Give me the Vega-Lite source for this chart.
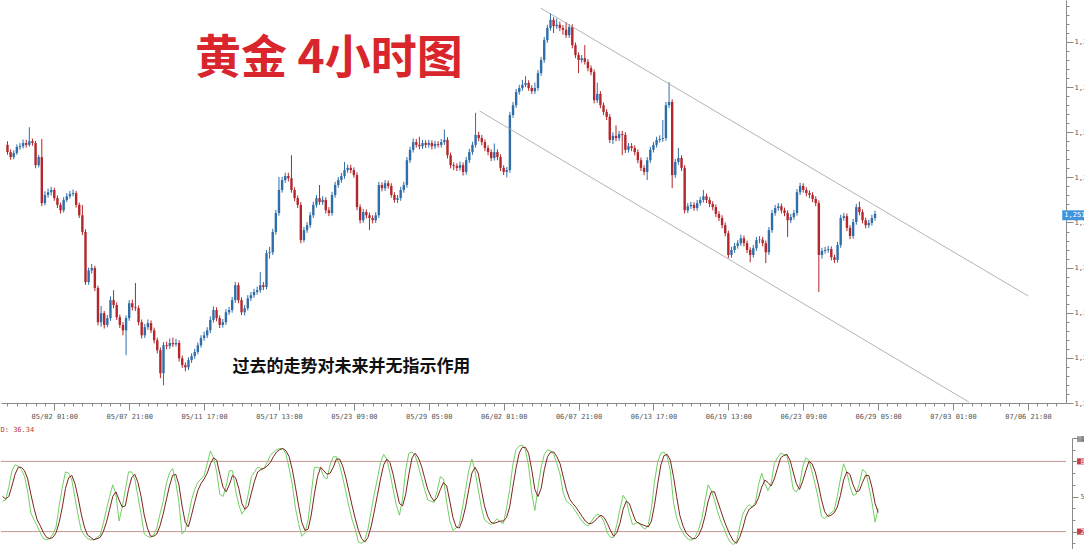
{
"$schema": "https://vega.github.io/schema/vega-lite/v6.json",
"padding": 0,
"background": "white",
"spacing": 7,
"config": {"view": {"stroke": null}, "axis": {"labelFont": "DejaVu Sans Mono", "labelFontSize": 7, "labelColor": "#555555", "domainColor": "#8a8a8a", "tickColor": "#8a8a8a", "grid": false, "title": null, "labelOverlap": false, "labelBound": false, "labelFlush": false}},
"resolve": {"scale": {"x": "independent", "y": "independent"}},
"datasets": {
"bars": [
{"i":0,"o":1267.2,"h":1268.0,"l":1265.0,"c":1265.6,"k":46,"d":50},
{"i":1,"o":1265.6,"h":1266.2,"l":1263.9,"c":1264.5,"k":47,"d":48},
{"i":2,"o":1264.5,"h":1266.0,"l":1264.0,"c":1265.4,"k":58,"d":50},
{"i":3,"o":1265.4,"h":1267.3,"l":1265.0,"c":1266.7,"k":72,"d":59},
{"i":4,"o":1266.7,"h":1267.6,"l":1266.1,"c":1266.9,"k":77,"d":69},
{"i":5,"o":1266.9,"h":1268.4,"l":1266.4,"c":1267.6,"k":76,"d":75},
{"i":6,"o":1267.6,"h":1268.3,"l":1266.6,"c":1267.2,"k":73,"d":75},
{"i":7,"o":1267.2,"h":1271.1,"l":1266.8,"c":1268.0,"k":67,"d":72},
{"i":8,"o":1268.0,"h":1268.6,"l":1267.0,"c":1267.6,"k":54,"d":65},
{"i":9,"o":1267.6,"h":1268.1,"l":1262.0,"c":1262.7,"k":36,"d":52},
{"i":10,"o":1262.7,"h":1265.0,"l":1262.2,"c":1264.5,"k":30,"d":40},
{"i":11,"o":1264.5,"h":1268.5,"l":1253.6,"c":1254.3,"k":25,"d":30},
{"i":12,"o":1254.3,"h":1256.9,"l":1253.8,"c":1256.1,"k":19,"d":25},
{"i":13,"o":1256.1,"h":1257.5,"l":1255.5,"c":1256.7,"k":14,"d":19},
{"i":14,"o":1256.7,"h":1257.9,"l":1256.0,"c":1257.2,"k":13,"d":15},
{"i":15,"o":1257.2,"h":1257.7,"l":1254.8,"c":1255.4,"k":14,"d":14},
{"i":16,"o":1255.4,"h":1256.0,"l":1253.2,"c":1253.9,"k":18,"d":15},
{"i":17,"o":1253.9,"h":1254.4,"l":1252.0,"c":1252.7,"k":24,"d":19},
{"i":18,"o":1252.7,"h":1255.6,"l":1252.2,"c":1255.0,"k":42,"d":28},
{"i":19,"o":1255.0,"h":1256.5,"l":1254.5,"c":1255.8,"k":58,"d":41},
{"i":20,"o":1255.8,"h":1257.0,"l":1255.3,"c":1256.3,"k":71,"d":57},
{"i":21,"o":1256.3,"h":1257.3,"l":1255.8,"c":1256.5,"k":70,"d":66},
{"i":22,"o":1256.5,"h":1257.0,"l":1253.3,"c":1253.9,"k":64,"d":68},
{"i":23,"o":1253.9,"h":1254.4,"l":1251.0,"c":1251.6,"k":49,"d":61},
{"i":24,"o":1251.6,"h":1253.9,"l":1247.2,"c":1247.9,"k":34,"d":49},
{"i":25,"o":1247.9,"h":1248.5,"l":1236.2,"c":1236.8,"k":21,"d":35},
{"i":26,"o":1236.8,"h":1240.0,"l":1236.2,"c":1239.4,"k":17,"d":24},
{"i":27,"o":1239.4,"h":1240.8,"l":1238.7,"c":1239.9,"k":14,"d":17},
{"i":28,"o":1239.9,"h":1240.4,"l":1234.8,"c":1235.5,"k":13,"d":15},
{"i":29,"o":1235.5,"h":1236.0,"l":1227.2,"c":1227.9,"k":13,"d":13},
{"i":30,"o":1227.9,"h":1231.5,"l":1226.9,"c":1229.9,"k":15,"d":14},
{"i":31,"o":1229.9,"h":1230.4,"l":1226.5,"c":1227.3,"k":17,"d":15},
{"i":32,"o":1227.3,"h":1229.5,"l":1226.8,"c":1228.8,"k":27,"d":20},
{"i":33,"o":1228.8,"h":1233.6,"l":1228.2,"c":1232.8,"k":39,"d":28},
{"i":34,"o":1232.8,"h":1235.0,"l":1231.0,"c":1231.7,"k":50,"d":39},
{"i":35,"o":1231.7,"h":1232.3,"l":1228.4,"c":1229.0,"k":60,"d":50},
{"i":36,"o":1229.0,"h":1229.6,"l":1226.6,"c":1227.3,"k":52,"d":54},
{"i":37,"o":1227.3,"h":1227.9,"l":1225.0,"c":1226.1,"k":29,"d":47},
{"i":38,"o":1226.1,"h":1229.4,"l":1220.6,"c":1228.8,"k":41,"d":41},
{"i":39,"o":1228.8,"h":1232.8,"l":1228.2,"c":1232.1,"k":56,"d":42},
{"i":40,"o":1232.1,"h":1232.9,"l":1230.5,"c":1231.2,"k":71,"d":56},
{"i":41,"o":1231.2,"h":1236.6,"l":1230.4,"c":1231.0,"k":71,"d":66},
{"i":42,"o":1231.0,"h":1231.6,"l":1227.2,"c":1227.9,"k":65,"d":69},
{"i":43,"o":1227.9,"h":1228.5,"l":1224.3,"c":1225.0,"k":50,"d":62},
{"i":44,"o":1225.0,"h":1227.5,"l":1224.4,"c":1226.8,"k":35,"d":50},
{"i":45,"o":1226.8,"h":1228.5,"l":1226.2,"c":1227.7,"k":18,"d":34},
{"i":46,"o":1227.7,"h":1228.3,"l":1225.5,"c":1226.1,"k":16,"d":23},
{"i":47,"o":1226.1,"h":1226.7,"l":1223.2,"c":1223.9,"k":15,"d":16},
{"i":48,"o":1223.9,"h":1224.5,"l":1221.0,"c":1221.7,"k":17,"d":16},
{"i":49,"o":1221.7,"h":1222.3,"l":1215.5,"c":1216.6,"k":23,"d":18},
{"i":50,"o":1216.6,"h":1223.5,"l":1213.9,"c":1222.8,"k":35,"d":25},
{"i":51,"o":1222.8,"h":1223.6,"l":1221.9,"c":1222.6,"k":46,"d":35},
{"i":52,"o":1222.6,"h":1224.3,"l":1222.0,"c":1223.3,"k":61,"d":47},
{"i":53,"o":1223.3,"h":1224.5,"l":1222.4,"c":1223.0,"k":70,"d":59},
{"i":54,"o":1223.0,"h":1224.2,"l":1222.5,"c":1223.3,"k":74,"d":68},
{"i":55,"o":1223.3,"h":1223.9,"l":1219.2,"c":1219.9,"k":62,"d":69},
{"i":56,"o":1219.9,"h":1220.5,"l":1217.8,"c":1218.4,"k":45,"d":60},
{"i":57,"o":1218.4,"h":1219.0,"l":1217.0,"c":1217.9,"k":18,"d":42},
{"i":58,"o":1217.9,"h":1220.1,"l":1217.3,"c":1219.5,"k":21,"d":28},
{"i":59,"o":1219.5,"h":1221.0,"l":1218.9,"c":1220.4,"k":33,"d":24},
{"i":60,"o":1220.4,"h":1222.0,"l":1219.8,"c":1221.3,"k":47,"d":34},
{"i":61,"o":1221.3,"h":1223.4,"l":1220.8,"c":1222.8,"k":56,"d":45},
{"i":62,"o":1222.8,"h":1225.0,"l":1222.3,"c":1224.4,"k":62,"d":55},
{"i":63,"o":1224.4,"h":1225.8,"l":1223.8,"c":1225.0,"k":65,"d":61},
{"i":64,"o":1225.0,"h":1226.8,"l":1224.4,"c":1226.1,"k":68,"d":65},
{"i":65,"o":1226.1,"h":1229.2,"l":1225.5,"c":1228.4,"k":78,"d":70},
{"i":66,"o":1228.4,"h":1231.4,"l":1227.8,"c":1230.6,"k":89,"d":78},
{"i":67,"o":1230.6,"h":1231.2,"l":1228.1,"c":1228.8,"k":83,"d":83},
{"i":68,"o":1228.8,"h":1229.4,"l":1226.6,"c":1227.3,"k":71,"d":81},
{"i":69,"o":1227.3,"h":1228.6,"l":1226.7,"c":1227.9,"k":52,"d":69},
{"i":70,"o":1227.9,"h":1230.8,"l":1227.3,"c":1230.1,"k":50,"d":58},
{"i":71,"o":1230.1,"h":1231.3,"l":1229.5,"c":1230.6,"k":59,"d":54},
{"i":72,"o":1230.6,"h":1233.5,"l":1230.0,"c":1232.8,"k":72,"d":60},
{"i":73,"o":1232.8,"h":1236.8,"l":1232.2,"c":1236.1,"k":72,"d":68},
{"i":74,"o":1236.1,"h":1236.7,"l":1232.1,"c":1232.8,"k":55,"d":66},
{"i":75,"o":1232.8,"h":1233.4,"l":1229.5,"c":1230.1,"k":43,"d":57},
{"i":76,"o":1230.1,"h":1231.7,"l":1229.4,"c":1231.0,"k":35,"d":44},
{"i":77,"o":1231.0,"h":1233.9,"l":1230.5,"c":1233.2,"k":39,"d":39},
{"i":78,"o":1233.2,"h":1234.6,"l":1232.6,"c":1233.9,"k":52,"d":42},
{"i":79,"o":1233.9,"h":1235.3,"l":1233.3,"c":1234.6,"k":67,"d":53},
{"i":80,"o":1234.6,"h":1235.8,"l":1234.0,"c":1235.0,"k":71,"d":63},
{"i":81,"o":1235.0,"h":1239.0,"l":1234.4,"c":1236.1,"k":75,"d":71},
{"i":82,"o":1236.1,"h":1236.8,"l":1235.0,"c":1235.7,"k":74,"d":73},
{"i":83,"o":1235.7,"h":1243.9,"l":1235.2,"c":1243.2,"k":74,"d":74},
{"i":84,"o":1243.2,"h":1244.6,"l":1242.0,"c":1243.4,"k":79,"d":76},
{"i":85,"o":1243.4,"h":1248.6,"l":1242.8,"c":1247.9,"k":85,"d":79},
{"i":86,"o":1247.9,"h":1252.8,"l":1247.3,"c":1252.1,"k":88,"d":84},
{"i":87,"o":1252.1,"h":1260.1,"l":1251.5,"c":1257.2,"k":90,"d":88},
{"i":88,"o":1257.2,"h":1260.1,"l":1256.6,"c":1259.4,"k":91,"d":90},
{"i":89,"o":1259.4,"h":1261.0,"l":1258.8,"c":1260.3,"k":91,"d":91},
{"i":90,"o":1260.3,"h":1261.0,"l":1259.1,"c":1259.8,"k":86,"d":89},
{"i":91,"o":1259.8,"h":1264.9,"l":1256.6,"c":1257.2,"k":74,"d":84},
{"i":92,"o":1257.2,"h":1257.8,"l":1254.7,"c":1255.4,"k":60,"d":73},
{"i":93,"o":1255.4,"h":1256.0,"l":1253.2,"c":1253.9,"k":40,"d":58},
{"i":94,"o":1253.9,"h":1254.5,"l":1245.4,"c":1246.1,"k":27,"d":42},
{"i":95,"o":1246.1,"h":1249.0,"l":1245.6,"c":1248.3,"k":16,"d":28},
{"i":96,"o":1248.3,"h":1250.1,"l":1247.7,"c":1249.4,"k":19,"d":21},
{"i":97,"o":1249.4,"h":1252.3,"l":1248.8,"c":1251.6,"k":30,"d":22},
{"i":98,"o":1251.6,"h":1254.6,"l":1251.0,"c":1253.9,"k":52,"d":34},
{"i":99,"o":1253.9,"h":1256.1,"l":1253.3,"c":1255.4,"k":75,"d":52},
{"i":100,"o":1255.4,"h":1258.3,"l":1253.9,"c":1254.5,"k":75,"d":67},
{"i":101,"o":1254.5,"h":1255.8,"l":1253.9,"c":1255.0,"k":74,"d":75},
{"i":102,"o":1255.0,"h":1255.6,"l":1252.0,"c":1252.7,"k":67,"d":72},
{"i":103,"o":1252.7,"h":1253.4,"l":1251.4,"c":1252.1,"k":65,"d":69},
{"i":104,"o":1252.1,"h":1256.8,"l":1251.5,"c":1256.1,"k":77,"d":70},
{"i":105,"o":1256.1,"h":1259.0,"l":1255.5,"c":1258.3,"k":84,"d":75},
{"i":106,"o":1258.3,"h":1260.1,"l":1257.7,"c":1259.4,"k":84,"d":82},
{"i":107,"o":1259.4,"h":1261.0,"l":1258.8,"c":1260.3,"k":77,"d":82},
{"i":108,"o":1260.3,"h":1263.4,"l":1259.7,"c":1261.6,"k":66,"d":76},
{"i":109,"o":1261.6,"h":1262.8,"l":1261.0,"c":1262.1,"k":54,"d":66},
{"i":110,"o":1262.1,"h":1262.8,"l":1260.9,"c":1261.6,"k":41,"d":54},
{"i":111,"o":1261.6,"h":1262.2,"l":1259.9,"c":1260.5,"k":30,"d":42},
{"i":112,"o":1260.5,"h":1261.1,"l":1252.7,"c":1253.4,"k":22,"d":31},
{"i":113,"o":1253.4,"h":1254.0,"l":1249.8,"c":1250.5,"k":11,"d":21},
{"i":114,"o":1250.5,"h":1253.0,"l":1249.9,"c":1252.3,"k":10,"d":14},
{"i":115,"o":1252.3,"h":1252.9,"l":1250.9,"c":1251.6,"k":13,"d":11},
{"i":116,"o":1251.6,"h":1252.2,"l":1248.3,"c":1251.0,"k":22,"d":15},
{"i":117,"o":1251.0,"h":1251.6,"l":1249.8,"c":1250.5,"k":37,"d":24},
{"i":118,"o":1250.5,"h":1252.3,"l":1249.9,"c":1251.6,"k":52,"d":37},
{"i":119,"o":1251.6,"h":1259.0,"l":1251.0,"c":1258.3,"k":65,"d":51},
{"i":120,"o":1258.3,"h":1258.9,"l":1256.9,"c":1257.6,"k":79,"d":65},
{"i":121,"o":1257.6,"h":1259.4,"l":1257.0,"c":1258.7,"k":86,"d":77},
{"i":122,"o":1258.7,"h":1259.3,"l":1257.5,"c":1258.1,"k":82,"d":82},
{"i":123,"o":1258.1,"h":1258.7,"l":1255.5,"c":1256.1,"k":70,"d":79},
{"i":124,"o":1256.1,"h":1256.7,"l":1254.4,"c":1255.0,"k":56,"d":69},
{"i":125,"o":1255.0,"h":1256.1,"l":1254.3,"c":1255.4,"k":43,"d":56},
{"i":126,"o":1255.4,"h":1257.9,"l":1254.8,"c":1257.2,"k":34,"d":44},
{"i":127,"o":1257.2,"h":1259.0,"l":1256.6,"c":1258.3,"k":48,"d":42},
{"i":128,"o":1258.3,"h":1264.5,"l":1257.7,"c":1263.8,"k":73,"d":52},
{"i":129,"o":1263.8,"h":1266.8,"l":1263.2,"c":1266.1,"k":87,"d":69},
{"i":130,"o":1266.1,"h":1268.6,"l":1265.5,"c":1267.8,"k":88,"d":83},
{"i":131,"o":1267.8,"h":1268.5,"l":1266.6,"c":1267.2,"k":85,"d":87},
{"i":132,"o":1267.2,"h":1269.0,"l":1266.2,"c":1266.9,"k":76,"d":83},
{"i":133,"o":1266.9,"h":1268.3,"l":1266.3,"c":1267.6,"k":66,"d":76},
{"i":134,"o":1267.6,"h":1268.2,"l":1266.5,"c":1267.2,"k":56,"d":66},
{"i":135,"o":1267.2,"h":1268.3,"l":1266.6,"c":1267.6,"k":47,"d":56},
{"i":136,"o":1267.6,"h":1268.2,"l":1266.2,"c":1266.9,"k":46,"d":50},
{"i":137,"o":1266.9,"h":1268.1,"l":1266.3,"c":1267.4,"k":45,"d":46},
{"i":138,"o":1267.4,"h":1268.0,"l":1266.6,"c":1267.2,"k":55,"d":49},
{"i":139,"o":1267.2,"h":1268.5,"l":1266.6,"c":1267.8,"k":67,"d":56},
{"i":140,"o":1267.8,"h":1270.6,"l":1267.2,"c":1268.3,"k":65,"d":62},
{"i":141,"o":1268.3,"h":1268.9,"l":1264.2,"c":1264.9,"k":45,"d":59},
{"i":142,"o":1264.9,"h":1265.5,"l":1262.0,"c":1262.7,"k":29,"d":46},
{"i":143,"o":1262.7,"h":1263.3,"l":1261.6,"c":1262.5,"k":21,"d":32},
{"i":144,"o":1262.5,"h":1263.1,"l":1261.4,"c":1262.1,"k":23,"d":24},
{"i":145,"o":1262.1,"h":1263.5,"l":1261.5,"c":1262.7,"k":26,"d":23},
{"i":146,"o":1262.7,"h":1263.3,"l":1260.4,"c":1261.2,"k":40,"d":30},
{"i":147,"o":1261.2,"h":1264.5,"l":1260.6,"c":1263.8,"k":56,"d":41},
{"i":148,"o":1263.8,"h":1266.3,"l":1263.2,"c":1265.6,"k":72,"d":56},
{"i":149,"o":1265.6,"h":1267.9,"l":1265.0,"c":1267.2,"k":82,"d":70},
{"i":150,"o":1267.2,"h":1274.3,"l":1266.6,"c":1269.4,"k":72,"d":75},
{"i":151,"o":1269.4,"h":1270.1,"l":1268.0,"c":1268.7,"k":56,"d":70},
{"i":152,"o":1268.7,"h":1269.4,"l":1267.1,"c":1267.8,"k":41,"d":56},
{"i":153,"o":1267.8,"h":1268.4,"l":1265.8,"c":1266.5,"k":30,"d":42},
{"i":154,"o":1266.5,"h":1267.1,"l":1264.9,"c":1265.6,"k":28,"d":33},
{"i":155,"o":1265.6,"h":1266.2,"l":1263.6,"c":1264.3,"k":26,"d":28},
{"i":156,"o":1264.3,"h":1267.5,"l":1263.7,"c":1265.6,"k":28,"d":27},
{"i":157,"o":1265.6,"h":1266.2,"l":1263.8,"c":1264.5,"k":31,"d":28},
{"i":158,"o":1264.5,"h":1265.1,"l":1261.4,"c":1262.1,"k":28,"d":29},
{"i":159,"o":1262.1,"h":1262.7,"l":1260.5,"c":1261.2,"k":27,"d":29},
{"i":160,"o":1261.2,"h":1262.3,"l":1260.0,"c":1261.6,"k":40,"d":32},
{"i":161,"o":1261.6,"h":1274.5,"l":1261.0,"c":1273.8,"k":56,"d":41},
{"i":162,"o":1273.8,"h":1276.7,"l":1273.2,"c":1276.0,"k":77,"d":58},
{"i":163,"o":1276.0,"h":1279.6,"l":1275.4,"c":1278.9,"k":90,"d":74},
{"i":164,"o":1278.9,"h":1280.5,"l":1278.3,"c":1279.8,"k":93,"d":87},
{"i":165,"o":1279.8,"h":1281.6,"l":1279.2,"c":1280.5,"k":94,"d":92},
{"i":166,"o":1280.5,"h":1282.4,"l":1280.0,"c":1280.9,"k":90,"d":92},
{"i":167,"o":1280.9,"h":1281.5,"l":1279.2,"c":1279.8,"k":76,"d":87},
{"i":168,"o":1279.8,"h":1280.4,"l":1278.5,"c":1279.1,"k":53,"d":73},
{"i":169,"o":1279.1,"h":1281.0,"l":1278.5,"c":1279.8,"k":38,"d":56},
{"i":170,"o":1279.8,"h":1283.8,"l":1279.2,"c":1283.1,"k":58,"d":50},
{"i":171,"o":1283.1,"h":1286.7,"l":1282.5,"c":1286.0,"k":75,"d":57},
{"i":172,"o":1286.0,"h":1291.1,"l":1285.4,"c":1290.4,"k":86,"d":73},
{"i":173,"o":1290.4,"h":1293.8,"l":1289.8,"c":1293.1,"k":90,"d":84},
{"i":174,"o":1293.1,"h":1296.4,"l":1292.5,"c":1294.9,"k":89,"d":88},
{"i":175,"o":1294.9,"h":1295.5,"l":1292.0,"c":1293.5,"k":86,"d":88},
{"i":176,"o":1293.5,"h":1295.2,"l":1292.9,"c":1293.8,"k":78,"d":84},
{"i":177,"o":1293.8,"h":1294.5,"l":1292.4,"c":1293.1,"k":69,"d":78},
{"i":178,"o":1293.1,"h":1293.7,"l":1291.6,"c":1292.7,"k":53,"d":67},
{"i":179,"o":1292.7,"h":1294.4,"l":1290.9,"c":1291.5,"k":46,"d":56},
{"i":180,"o":1291.5,"h":1294.0,"l":1290.9,"c":1293.3,"k":44,"d":48},
{"i":181,"o":1293.3,"h":1293.9,"l":1288.6,"c":1289.3,"k":41,"d":44},
{"i":182,"o":1289.3,"h":1289.9,"l":1286.4,"c":1287.1,"k":37,"d":41},
{"i":183,"o":1287.1,"h":1287.7,"l":1283.1,"c":1286.0,"k":33,"d":37},
{"i":184,"o":1286.0,"h":1287.1,"l":1285.4,"c":1286.4,"k":29,"d":33},
{"i":185,"o":1286.4,"h":1289.3,"l":1285.0,"c":1285.6,"k":26,"d":29},
{"i":186,"o":1285.6,"h":1286.2,"l":1283.5,"c":1284.2,"k":25,"d":27},
{"i":187,"o":1284.2,"h":1284.8,"l":1282.6,"c":1283.3,"k":29,"d":27},
{"i":188,"o":1283.3,"h":1283.9,"l":1276.4,"c":1277.1,"k":33,"d":29},
{"i":189,"o":1277.1,"h":1281.0,"l":1276.5,"c":1278.5,"k":35,"d":32},
{"i":190,"o":1278.5,"h":1279.1,"l":1275.3,"c":1276.0,"k":33,"d":34},
{"i":191,"o":1276.0,"h":1276.6,"l":1273.8,"c":1274.5,"k":28,"d":32},
{"i":192,"o":1274.5,"h":1275.1,"l":1272.7,"c":1273.4,"k":19,"d":27},
{"i":193,"o":1273.4,"h":1274.0,"l":1267.6,"c":1268.3,"k":15,"d":21},
{"i":194,"o":1268.3,"h":1270.0,"l":1267.4,"c":1269.2,"k":15,"d":16},
{"i":195,"o":1269.2,"h":1271.5,"l":1268.0,"c":1268.7,"k":26,"d":19},
{"i":196,"o":1268.7,"h":1270.3,"l":1268.1,"c":1269.6,"k":39,"d":27},
{"i":197,"o":1269.6,"h":1270.3,"l":1264.9,"c":1269.4,"k":51,"d":39},
{"i":198,"o":1269.4,"h":1270.0,"l":1265.4,"c":1266.1,"k":47,"d":46},
{"i":199,"o":1266.1,"h":1267.6,"l":1265.5,"c":1266.9,"k":35,"d":44},
{"i":200,"o":1266.9,"h":1267.6,"l":1265.8,"c":1266.5,"k":26,"d":36},
{"i":201,"o":1266.5,"h":1267.1,"l":1264.9,"c":1265.6,"k":27,"d":29},
{"i":202,"o":1265.6,"h":1266.2,"l":1263.1,"c":1263.8,"k":28,"d":27},
{"i":203,"o":1263.8,"h":1264.4,"l":1261.4,"c":1262.1,"k":24,"d":26},
{"i":204,"o":1262.1,"h":1262.7,"l":1260.5,"c":1261.2,"k":22,"d":25},
{"i":205,"o":1261.2,"h":1264.5,"l":1259.4,"c":1263.8,"k":26,"d":24},
{"i":206,"o":1263.8,"h":1266.8,"l":1263.2,"c":1266.1,"k":40,"d":29},
{"i":207,"o":1266.1,"h":1267.9,"l":1265.5,"c":1267.2,"k":63,"d":43},
{"i":208,"o":1267.2,"h":1269.0,"l":1266.6,"c":1268.3,"k":80,"d":61},
{"i":209,"o":1268.3,"h":1269.3,"l":1267.7,"c":1268.5,"k":87,"d":77},
{"i":210,"o":1268.5,"h":1272.7,"l":1267.9,"c":1268.7,"k":88,"d":85},
{"i":211,"o":1268.7,"h":1276.7,"l":1268.1,"c":1276.0,"k":84,"d":86},
{"i":212,"o":1276.0,"h":1281.1,"l":1275.4,"c":1276.7,"k":72,"d":81},
{"i":213,"o":1276.7,"h":1277.3,"l":1257.6,"c":1260.5,"k":45,"d":67},
{"i":214,"o":1260.5,"h":1264.1,"l":1259.9,"c":1263.4,"k":32,"d":50},
{"i":215,"o":1263.4,"h":1266.5,"l":1262.8,"c":1264.3,"k":24,"d":34},
{"i":216,"o":1264.3,"h":1264.9,"l":1261.4,"c":1262.1,"k":19,"d":25},
{"i":217,"o":1262.1,"h":1262.7,"l":1252.0,"c":1252.7,"k":15,"d":19},
{"i":218,"o":1252.7,"h":1254.3,"l":1252.1,"c":1253.6,"k":13,"d":16},
{"i":219,"o":1253.6,"h":1254.6,"l":1253.0,"c":1253.9,"k":13,"d":14},
{"i":220,"o":1253.9,"h":1254.5,"l":1252.6,"c":1253.2,"k":16,"d":14},
{"i":221,"o":1253.2,"h":1255.0,"l":1252.6,"c":1254.3,"k":22,"d":17},
{"i":222,"o":1254.3,"h":1255.7,"l":1253.7,"c":1255.0,"k":31,"d":23},
{"i":223,"o":1255.0,"h":1257.2,"l":1254.4,"c":1255.8,"k":46,"d":33},
{"i":224,"o":1255.8,"h":1256.4,"l":1254.3,"c":1255.0,"k":60,"d":46},
{"i":225,"o":1255.0,"h":1255.6,"l":1253.4,"c":1254.1,"k":55,"d":54},
{"i":226,"o":1254.1,"h":1254.7,"l":1252.7,"c":1253.4,"k":47,"d":54},
{"i":227,"o":1253.4,"h":1254.0,"l":1251.2,"c":1251.9,"k":37,"d":46},
{"i":228,"o":1251.9,"h":1252.5,"l":1250.3,"c":1251.0,"k":29,"d":38},
{"i":229,"o":1251.0,"h":1251.6,"l":1248.7,"c":1249.4,"k":23,"d":30},
{"i":230,"o":1249.4,"h":1250.0,"l":1246.9,"c":1247.6,"k":16,"d":23},
{"i":231,"o":1247.6,"h":1248.2,"l":1242.1,"c":1242.8,"k":11,"d":17},
{"i":232,"o":1242.8,"h":1244.6,"l":1242.2,"c":1243.9,"k":9,"d":12},
{"i":233,"o":1243.9,"h":1245.5,"l":1243.3,"c":1244.8,"k":11,"d":10},
{"i":234,"o":1244.8,"h":1246.1,"l":1244.2,"c":1245.4,"k":24,"d":15},
{"i":235,"o":1245.4,"h":1247.3,"l":1244.8,"c":1246.5,"k":35,"d":23},
{"i":236,"o":1246.5,"h":1247.1,"l":1244.7,"c":1245.4,"k":40,"d":33},
{"i":237,"o":1245.4,"h":1246.0,"l":1243.2,"c":1243.9,"k":43,"d":39},
{"i":238,"o":1243.9,"h":1244.5,"l":1241.2,"c":1242.8,"k":41,"d":41},
{"i":239,"o":1242.8,"h":1245.0,"l":1242.2,"c":1244.3,"k":45,"d":43},
{"i":240,"o":1244.3,"h":1246.8,"l":1243.7,"c":1246.1,"k":60,"d":49},
{"i":241,"o":1246.1,"h":1247.0,"l":1245.4,"c":1246.2,"k":70,"d":58},
{"i":242,"o":1246.2,"h":1246.8,"l":1244.7,"c":1245.4,"k":61,"d":64},
{"i":243,"o":1245.4,"h":1246.0,"l":1241.0,"c":1243.4,"k":55,"d":62},
{"i":244,"o":1243.4,"h":1249.0,"l":1242.8,"c":1248.3,"k":61,"d":59},
{"i":245,"o":1248.3,"h":1252.8,"l":1247.7,"c":1252.1,"k":78,"d":65},
{"i":246,"o":1252.1,"h":1253.9,"l":1251.5,"c":1253.2,"k":83,"d":74},
{"i":247,"o":1253.2,"h":1254.3,"l":1252.6,"c":1253.6,"k":87,"d":83},
{"i":248,"o":1253.6,"h":1254.2,"l":1252.0,"c":1252.7,"k":86,"d":85},
{"i":249,"o":1252.7,"h":1253.3,"l":1251.4,"c":1252.1,"k":85,"d":86},
{"i":250,"o":1252.1,"h":1252.7,"l":1246.8,"c":1250.5,"k":73,"d":81},
{"i":251,"o":1250.5,"h":1251.9,"l":1249.9,"c":1251.2,"k":56,"d":71},
{"i":252,"o":1251.2,"h":1252.8,"l":1250.6,"c":1252.1,"k":54,"d":61},
{"i":253,"o":1252.1,"h":1257.4,"l":1251.5,"c":1256.7,"k":59,"d":56},
{"i":254,"o":1256.7,"h":1258.8,"l":1256.1,"c":1258.1,"k":75,"d":63},
{"i":255,"o":1258.1,"h":1258.7,"l":1256.6,"c":1257.2,"k":83,"d":72},
{"i":256,"o":1257.2,"h":1257.8,"l":1255.8,"c":1256.5,"k":81,"d":80},
{"i":257,"o":1256.5,"h":1257.1,"l":1255.4,"c":1256.1,"k":71,"d":78},
{"i":258,"o":1256.1,"h":1256.7,"l":1254.5,"c":1255.2,"k":60,"d":71},
{"i":259,"o":1255.2,"h":1255.8,"l":1253.6,"c":1254.3,"k":48,"d":60},
{"i":260,"o":1254.3,"h":1254.9,"l":1234.6,"c":1242.8,"k":33,"d":47},
{"i":261,"o":1242.8,"h":1244.4,"l":1242.0,"c":1243.7,"k":31,"d":37},
{"i":262,"o":1243.7,"h":1244.6,"l":1243.1,"c":1243.9,"k":34,"d":33},
{"i":263,"o":1243.9,"h":1244.8,"l":1243.3,"c":1244.1,"k":36,"d":34},
{"i":264,"o":1244.1,"h":1244.7,"l":1241.6,"c":1242.3,"k":38,"d":36},
{"i":265,"o":1242.3,"h":1242.9,"l":1241.0,"c":1241.7,"k":50,"d":41},
{"i":266,"o":1241.7,"h":1245.7,"l":1241.1,"c":1245.0,"k":65,"d":51},
{"i":267,"o":1245.0,"h":1251.7,"l":1244.4,"c":1251.0,"k":78,"d":64},
{"i":268,"o":1251.0,"h":1252.1,"l":1250.4,"c":1251.4,"k":71,"d":71},
{"i":269,"o":1251.4,"h":1252.0,"l":1248.1,"c":1248.8,"k":59,"d":69},
{"i":270,"o":1248.8,"h":1249.4,"l":1246.3,"c":1247.0,"k":51,"d":60},
{"i":271,"o":1247.0,"h":1250.8,"l":1246.4,"c":1250.1,"k":52,"d":54},
{"i":272,"o":1250.1,"h":1254.1,"l":1249.5,"c":1253.4,"k":61,"d":55},
{"i":273,"o":1253.4,"h":1254.6,"l":1251.6,"c":1252.3,"k":73,"d":62},
{"i":274,"o":1252.3,"h":1252.9,"l":1249.8,"c":1250.5,"k":71,"d":68},
{"i":275,"o":1250.5,"h":1251.1,"l":1248.7,"c":1249.4,"k":59,"d":68},
{"i":276,"o":1249.4,"h":1250.6,"l":1248.8,"c":1249.9,"k":45,"d":58},
{"i":277,"o":1249.9,"h":1251.7,"l":1249.3,"c":1251.0,"k":28,"d":44},
{"i":278,"o":1251.0,"h":1252.6,"l":1250.4,"c":1251.9,"k":40,"d":36.34}
],
"chan": [
{"i1":170.9,"p1":1297.5,"i2":327.1,"p2":1233.7},
{"i1":151.3,"p1":1274.7,"i2":308.1,"p2":1210.2}
],
"notes": [
{"t":"黄金 4小时图","i":103,"p":1286.2,"kind":"title"},
{"t":"过去的走势对未来并无指示作用","i":110.2,"p":1217.9,"kind":"note"}
],
"pricetag": [
{"i1":338,"i2":346,"p1":1250.5,"p2":1252.7,"t":"1,251.90"}
],
"levels": [{"v":20},{"v":80}],
"stochtags": [
{"i1":341.1,"i2":346,"v1":77.4,"v2":82.6,"kind":"lim","t":"80"},
{"i1":341.1,"i2":346,"v1":17.4,"v2":22.6,"kind":"lim","t":"20"},
{"i1":341.1,"i2":346,"v1":96.5,"v2":101.5,"kind":"top","t":"100"}
]
},
"vconcat": [
{
"width": 1065,
"height": 403,
"resolve": {"axis": {"x": "independent", "y": "independent"}},
"layer": [
{"data": {"name": "bars"}, "mark": {"type": "rule", "strokeWidth": 1},
 "encoding": {
  "x": {"field": "i", "type": "quantitative", "scale": {"domain": [-0.476, 337.6], "nice": false, "zero": false},
   "axis": {"orient": "bottom", "values": [15,39,63,87,111,135,159,183,207,231,255,279,303,327],
    "labelExpr": "datum.value == 15 ? '05/02 01:00' : datum.value == 39 ? '05/07 21:00' : datum.value == 63 ? '05/11 17:00' : datum.value == 87 ? '05/17 13:00' : datum.value == 111 ? '05/23 09:00' : datum.value == 135 ? '05/29 05:00' : datum.value == 159 ? '06/02 01:00' : datum.value == 183 ? '06/07 21:00' : datum.value == 207 ? '06/13 17:00' : datum.value == 231 ? '06/19 13:00' : datum.value == 255 ? '06/23 09:00' : datum.value == 279 ? '06/29 05:00' : datum.value == 303 ? '07/03 01:00' : '07/06 21:00'",
    "tickSize": 7, "labelPadding": 2}},
  "y": {"field": "l", "type": "quantitative", "scale": {"domain": [1210, 1299.3], "nice": false, "zero": false},
   "axis": {"orient": "right", "values": [1210,1220,1230,1240,1250,1260,1270,1280,1290],
    "format": ",.2f", "tickSize": 7, "labelPadding": 1}},
  "y2": {"field": "h"},
  "color": {"condition": {"test": "datum.c >= datum.o", "value": "#2f6ea9"}, "value": "#b3262b"}
 }},
{"data": {"name": "bars"}, "mark": {"type": "bar", "size": 2.4},
 "encoding": {
  "x": {"field": "i", "type": "quantitative",
   "axis": {"orient": "bottom", "values": [0,3,6,9,12,18,21,24,27,30,33,36,42,45,48,51,54,57,60,66,69,72,75,78,81,84,90,93,96,99,102,105,108,114,117,120,123,126,129,132,138,141,144,147,150,153,156,162,165,168,171,174,177,180,186,189,192,195,198,201,204,210,213,216,219,222,225,228,234,237,240,243,246,249,252,258,261,264,267,270,273,276,282,285,288,291,294,297,300,306,309,312,315,318,321,324,330,333,336],
    "labels": false, "domain": false, "tickSize": 3}},
  "y": {"field": "o", "type": "quantitative",
   "axis": {"orient": "right", "values": [1212,1214,1216,1218,1222,1224,1226,1228,1232,1234,1236,1238,1242,1244,1246,1248,1252,1254,1256,1258,1262,1264,1266,1268,1272,1274,1276,1278,1282,1284,1286,1288,1292,1294,1296,1298],
    "labels": false, "domain": false, "tickSize": 3}},
  "y2": {"field": "c"},
  "color": {"condition": {"test": "datum.c >= datum.o", "value": "#2f6ea9"}, "value": "#b3262b"}
 }},
{"data": {"name": "chan"}, "mark": {"type": "rule", "color": "#ababab", "strokeWidth": 0.9},
 "encoding": {
  "x": {"field": "i1", "type": "quantitative", "axis": null}, "x2": {"field": "i2"},
  "y": {"field": "p1", "type": "quantitative", "axis": null}, "y2": {"field": "p2"}
 }},
{"data": {"name": "notes"}, "transform": [{"filter": "datum.kind == 'title'"}],
 "mark": {"type": "text", "font": "Noto Sans CJK SC", "fontSize": 46, "fontWeight": "bold", "color": "#d8262c", "align": "center", "baseline": "middle"},
 "encoding": {"x": {"field": "i", "type": "quantitative", "axis": null}, "y": {"field": "p", "type": "quantitative", "axis": null}, "text": {"field": "t"}}},
{"data": {"name": "notes"}, "transform": [{"filter": "datum.kind == 'note'"}],
 "mark": {"type": "text", "font": "Noto Sans CJK SC", "fontSize": 17, "fontWeight": "bold", "color": "#111111", "align": "center", "baseline": "middle"},
 "encoding": {"x": {"field": "i", "type": "quantitative", "axis": null}, "y": {"field": "p", "type": "quantitative", "axis": null}, "text": {"field": "t"}}},
{"data": {"name": "pricetag"}, "mark": {"type": "rect", "color": "#3f95dc"},
 "encoding": {"x": {"field": "i1", "type": "quantitative", "axis": null}, "x2": {"field": "i2"}, "y": {"field": "p1", "type": "quantitative", "axis": null}, "y2": {"field": "p2"}}},
{"data": {"name": "pricetag"}, "mark": {"type": "text", "font": "DejaVu Sans Mono", "fontSize": 7, "color": "#ffffff", "align": "left", "baseline": "middle", "dx": 2, "dy": -5},
 "encoding": {"x": {"field": "i1", "type": "quantitative", "axis": null}, "y": {"field": "p1", "type": "quantitative", "axis": null}, "text": {"field": "t"}}}
]
},
{
"width": 1065,
"height": 117,
"title": {"text": "D: 36.34", "anchor": "start", "fontSize": 7, "font": "DejaVu Sans Mono", "color": "#c03a3a", "fontWeight": "normal", "offset": 1},
"resolve": {"axis": {"y": "independent"}},
"layer": [
{"data": {"name": "levels"}, "mark": {"type": "rule", "color": "#c4958e", "strokeWidth": 1},
 "encoding": {"y": {"field": "v", "type": "quantitative", "scale": {"domain": [0, 100], "nice": false, "zero": false},
  "axis": {"orient": "right", "offset": 6, "zindex": 1, "values": [20, 50, 80, 100],
   "labelColor": {"condition": {"test": "datum.value == 20 || datum.value == 80", "value": "#ffffff"}, "value": "#666666"},
   "tickSize": 6, "labelPadding": 2}}}},
{"data": {"name": "stochtags"}, "mark": {"type": "rect"},
 "encoding": {"x": {"field": "i1", "type": "quantitative", "axis": null}, "x2": {"field": "i2"}, "y": {"field": "v1", "type": "quantitative", "axis": null}, "y2": {"field": "v2"},
  "color": {"field": "kind", "type": "nominal", "scale": {"domain": ["lim", "top"], "range": ["#c83c3c", "#9a9a9a"]}, "legend": null}}},
{"data": {"name": "bars"}, "mark": {"type": "line", "color": "#72d062", "strokeWidth": 1},
 "encoding": {
  "x": {"field": "i", "type": "quantitative", "scale": {"domain": [-0.476, 337.6], "nice": false, "zero": false},
   "axis": {"orient": "top", "labels": false, "ticks": false, "domainColor": "#444444", "domainWidth": 1}},
  "y": {"field": "k", "type": "quantitative",
   "axis": {"orient": "right", "offset": 6, "values": [0,10,30,40,60,70,90], "labels": false, "domain": false, "tickSize": 3}}
 }},
{"data": {"name": "bars"}, "mark": {"type": "line", "color": "#7d2420", "strokeWidth": 1},
 "encoding": {"x": {"field": "i", "type": "quantitative", "axis": null}, "y": {"field": "d", "type": "quantitative", "axis": null}}}
]
}
]
}
